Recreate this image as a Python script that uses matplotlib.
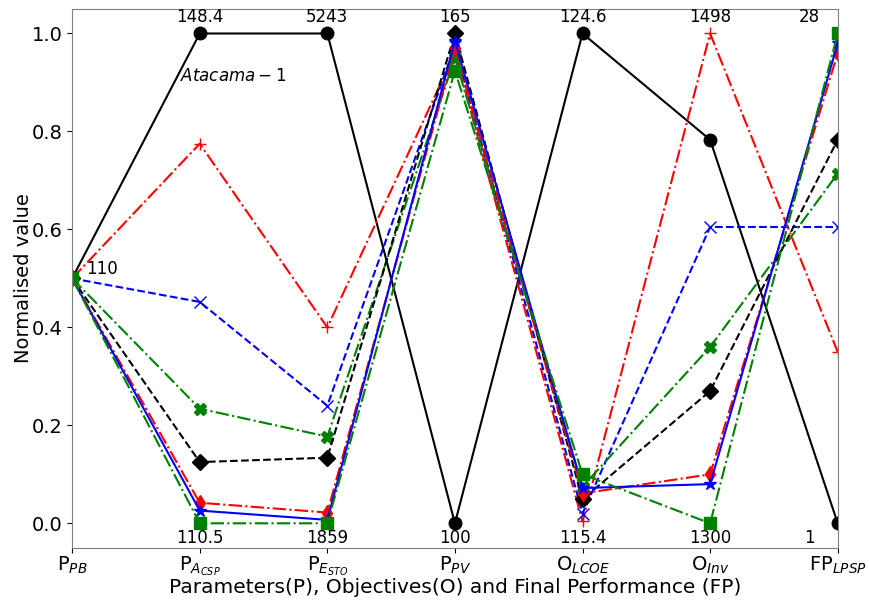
import numpy as np
import matplotlib
matplotlib.use('Agg')
import matplotlib.pyplot as plt

# axis labels (parallel coordinates)
axes_names = [r'P$_{PB}$', r'P$_{A_{CSP}}$', r'P$_{E_{STO}}$', r'P$_{PV}$',
              r'O$_{LCOE}$', r'O$_{Inv}$', r'FP$_{LPSP}$']
top_vals = ['148.4', '5243', '165', '124.6', '1498', '28']
bottom_vals = ['110.5', '1859', '100', '115.4', '1300', '1']

# normalised values of each solution
atacama_1 = [0.5, 1.0, 1.0, 0.0, 1.0, 0.783, 0.0]
sol_plus = [0.5, 0.775, 0.40, 0.96, 0.004, 1.0, 0.35]
sol_x = [0.5, 0.452, 0.24, 0.975, 0.02, 0.605, 0.605]
sol_X = [0.5, 0.234, 0.177, 0.95, 0.075, 0.36, 0.714]
sol_D = [0.5, 0.125, 0.134, 1.0, 0.049, 0.27, 0.783]
sol_d = [0.5, 0.042, 0.022, 0.97, 0.061, 0.10, 0.96]
sol_star = [0.5, 0.026, 0.007, 0.985, 0.072, 0.08, 0.98]
sol_s = [0.5, 0.0, 0.0, 0.924, 0.10, 0.0, 1.0]

x = np.arange(len(axes_names))

fig = plt.figure(figsize=(8.69, 6.0), dpi=100)
ax = fig.add_axes([0.083, 0.087, 0.881, 0.898])

ax.plot(x, atacama_1, 'k-o', markersize=9)
ax.plot(x, sol_plus, 'r-.+', markersize=9)
ax.plot(x, sol_x, 'b--x', markersize=9)
ax.plot(x, sol_X, 'g-.X', markersize=9)
ax.plot(x, sol_D, 'k--D', markersize=8)
ax.plot(x, sol_d, 'r-.d', markersize=8)
ax.plot(x, sol_star, 'b-*', markersize=9)
ax.plot(x, sol_s, 'g-.s', markersize=8)

for i in range(1, len(axes_names)):
    xi = i if i < 6 else 5.78
    ax.text(xi, 1.033, top_vals[i-1], ha='center', va='center', fontsize=12)
    ax.text(xi, -0.029, bottom_vals[i-1], ha='center', va='center', fontsize=12)
ax.text(0.11, 0.5, '110', ha='left', va='bottom', fontsize=12)
ax.text(1.26, 0.914, r'$Atacama-1$', ha='center', va='center', fontsize=12)

ax.set_xlim(0, 6)
ax.set_ylim(-0.05, 1.05)
ax.set_xticks(x)
ax.set_xticklabels(axes_names, fontsize=14)
ax.tick_params(axis='y', labelsize=14)
ax.tick_params(axis='x', pad=1.5)
ax.set_xlabel('Parameters(P), Objectives(O) and Final Performance (FP)', fontsize=14.5, labelpad=0)
ax.set_ylabel('Normalised value', fontsize=14, labelpad=-1)
for sp in ax.spines.values():
    sp.set_color('#808080')

plt.savefig('out.png', dpi=100)
